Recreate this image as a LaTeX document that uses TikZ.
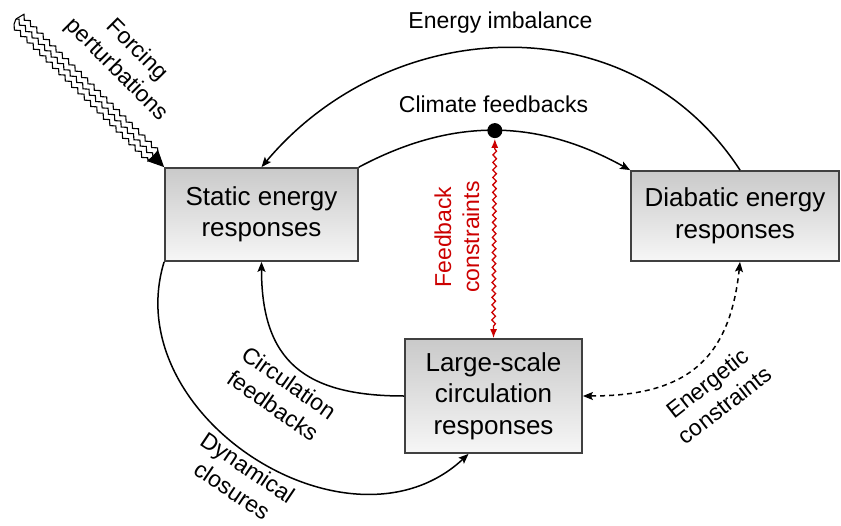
\documentclass[tikz,border=0pt]{standalone}
\usepackage{fontspec}
\setmainfont{Liberation Sans}
\usetikzlibrary{arrows.meta,decorations.pathmorphing,calc}
\definecolor{fbred}{RGB}{204,0,0}
\definecolor{boxedge}{RGB}{64,64,64}
\begin{document}
\begin{tikzpicture}[x=1pt,y=-1pt,
  box/.style={draw=boxedge, line width=1.8pt, top color=gray!42, bottom color=gray!7,
    inner sep=0pt, align=center, font=\fontsize{26}{31.5}\selectfont},
  lab/.style={align=center, inner sep=0pt, font=\fontsize{23}{28}\selectfont},
  link/.style={line width=1.5pt, -{Stealth[length=10pt,width=8pt,inset=2pt]}},
  dashlink/.style={line width=1.5pt, dash pattern=on 5pt off 4pt,
    {Stealth[length=10pt,width=8pt,inset=2pt]}-{Stealth[length=10pt,width=8pt,inset=2pt]}},
  dot/.style={circle, fill=black, inner sep=0pt, minimum size=15pt},
  wavy/.style={line width=1.1pt, decorate,
    decoration={zigzag, amplitude=2pt, segment length=9pt}},
  redwave/.style={fbred, line width=1.3pt,
    {Latex[length=9pt,width=7pt]}-{Latex[length=9pt,width=7pt]}, decorate,
    decoration={snake, amplitude=1.8pt, segment length=7.5pt, pre length=10pt, post length=10pt}}
]
\useasboundingbox (0,0) rectangle (841,525);

% response boxes
\node[box, minimum width=193pt, minimum height=93pt] (static) at (261.5,214.5)
  {Static energy\\responses};
\node[box, minimum width=208pt, minimum height=90pt] (diab) at (735,216)
  {Diabatic energy\\responses};
\node[box, minimum width=177pt, minimum height=114pt] (large) at (493.5,396)
  {Large-scale\\circulation\\responses};

% energy imbalance: diabatic -> static
\draw[link] ([xshift=5pt]diab.north) to[out=123, in=50, looseness=1.07] (static.north);
\node[lab] (imb) at (500.5,23) {Energy imbalance};

% climate feedbacks: static -> diabatic, through the feedback point
\draw[link] (static.north east) to[out=28, in=151]
  node[pos=0.5, dot] (cf) {} (diab.north west);
\node[lab] (cflab) at (493.5,104) {Climate feedbacks};

% feedback constraints
\draw[redwave] (cf.south) -- (large.north);
\node[lab, text=fbred, rotate=90] (fblab) at (457,237) {Feedback\\constraints};

% circulation feedbacks
\draw[link] (large.west) to[out=180, in=-90, looseness=1.3] (static.south);
\node[lab, rotate=-35] (cflab2) at (281,394) {Circulation\\feedbacks};

% dynamical closures
\draw[link] (static.south west) to[out=-107, in=-137, looseness=1.15]
  ([xshift=-25pt]large.south);
\node[lab, rotate=-34] (dynlab) at (240,479) {Dynamical\\closures};

% energetic constraints
\draw[dashlink] ([xshift=5pt]diab.south) to[out=-96, in=0, looseness=1.25] (large.east);
\node[lab, rotate=38] (enlab) at (716,394) {Energetic\\constraints};

% forcing perturbations
\coordinate (fstart) at (16,19);
\coordinate (fbase) at ($(static.north west)!15pt!(fstart)$);
\draw[wavy, decoration={raise=7pt}] (fstart) -- (fbase);
\draw[wavy, decoration={raise=-7pt}] (fstart) -- (fbase);
\draw[wavy, decoration={post length=15pt}, -{Triangle[length=16pt,width=15pt]}]
  (fstart) -- (static.north west);
\node[lab, rotate=-45] (forclab) at (126.5,60) {Forcing\\perturbations};
\end{tikzpicture}
\end{document}
